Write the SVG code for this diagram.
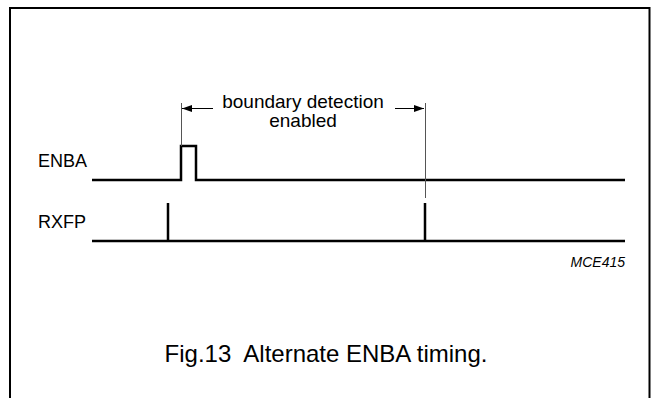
<svg xmlns="http://www.w3.org/2000/svg" width="653" height="398" viewBox="0 0 653 398">
<defs>
<style>
.sig{fill:none;stroke:#000;stroke-width:2.5;stroke-linejoin:miter}
.thin{fill:none;stroke:#555;stroke-width:1}
.arr{fill:none;stroke:#000;stroke-width:1}
text{font-family:"Liberation Sans",Arial,sans-serif;fill:#000}
</style>
<marker id="ah" markerWidth="10" markerHeight="8" refX="10" refY="4" orient="auto" markerUnits="userSpaceOnUse">
<path d="M0,0.5 L10,4 L0,7.5 Z" fill="#000"/>
</marker>
</defs>
<rect width="653" height="398" fill="#fff"/>
<path d="M10,400 V8 H649.5 V400" fill="none" stroke="#000" stroke-width="2"/>
<g id="enba">
<text x="38" y="167" font-size="18">ENBA</text>
<path class="sig" d="M92,180 H181 V146 H196 V180 H625"/>
</g>
<g id="rxfp">
<text x="38" y="228" font-size="18">RXFP</text>
<path class="sig" d="M92,241 H625 M168,241 V203 M425,241 V203"/>
</g>
<g id="connectors">
<path class="thin" d="M181.5,103 V146 M425.5,103 V198"/>
<path class="arr" d="M213,108.5 H182" marker-end="url(#ah)"/>
<path class="arr" d="M395,108.5 H424" marker-end="url(#ah)"/>
</g>
<g id="label">
<text x="303" y="107.5" font-size="19" text-anchor="middle">boundary detection</text>
<text x="303" y="127" font-size="19" text-anchor="middle">enabled</text>
</g>
<text x="625" y="267" font-size="14" font-style="italic" text-anchor="end">MCE415</text>
<text x="326" y="362" font-size="24" text-anchor="middle" xml:space="preserve">Fig.13  Alternate ENBA timing.</text>
</svg>
